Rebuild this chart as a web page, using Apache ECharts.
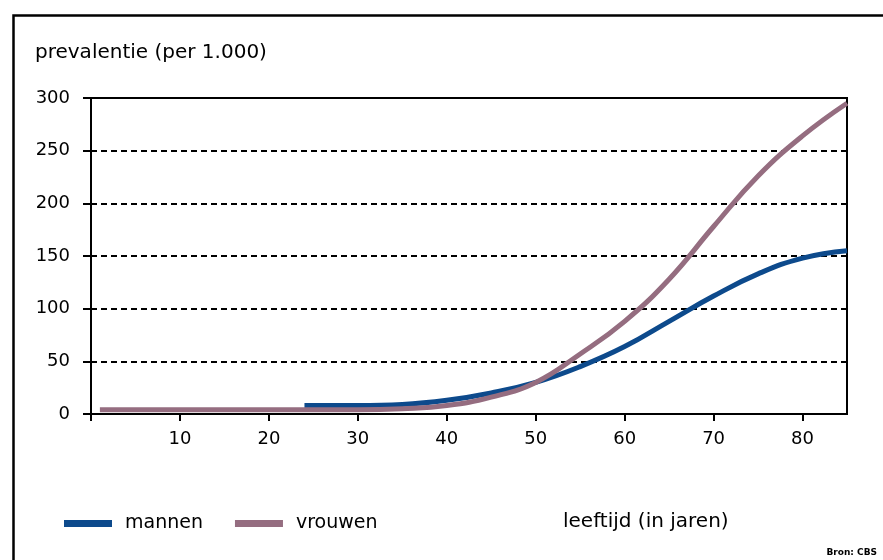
<!DOCTYPE html>
<html>
<head>
<meta charset="utf-8">
<script src="https://cdn.jsdelivr.net/npm/echarts@6/dist/echarts.min.js"></script>
<style>
  html, body { margin: 0; padding: 0; background: #fff; }
  #main { width: 883px; height: 560px; }
</style>
</head>
<body>
<div id="main"></div>
<script>
// leeftijd (jaren) en prevalentie per 1.000
var ageMen = [24, 30, 35, 40, 45, 50, 55, 60, 65, 70, 75, 80, 85];
var valMen = [8, 8, 9, 13, 20, 30, 45, 64, 88, 112, 133, 148, 155];
var ageWomen = [1, 5, 10, 15, 20, 25, 30, 35, 40, 45, 50, 55, 60, 65, 70, 75, 80, 85];
var valWomen = [4, 4, 4, 4, 4, 4, 4, 5, 8, 16, 30, 57, 88, 128, 178, 226, 264, 295];
var xTicks = [0, 10, 20, 30, 40, 50, 60, 70, 80];
var xLabels = [10, 20, 30, 40, 50, 60, 70, 80];

var FONT = '"DejaVu Sans", sans-serif';

function pairs(xs, ys) {
  var out = [];
  for (var i = 0; i < xs.length; i++) out.push([xs[i], ys[i]]);
  return out;
}

var chart = echarts.init(document.getElementById('main'));
var option = {
  animation: false,
  backgroundColor: '#fff',
  textStyle: { fontFamily: FONT, color: '#000' },
  grid: {
    left: 91, top: 98, right: 36, bottom: 146,
    show: true, borderColor: '#000', borderWidth: 2, backgroundColor: 'transparent'
  },
  legend: {
    left: 59, top: 509,
    icon: 'rect',
    itemWidth: 48, itemHeight: 7, itemGap: 32,
    textStyle: { fontFamily: FONT, fontSize: 19, color: '#000', padding: [0, 0, 0, 8] },
    data: ['mannen', 'vrouwen']
  },
  xAxis: {
    type: 'value', min: 0, max: 85, interval: 10,
    axisLine: { lineStyle: { color: '#000', width: 2 } },
    axisTick: { customValues: xTicks, length: 7, lineStyle: { color: '#000', width: 2 } },
    axisLabel: { customValues: xLabels, margin: 16, fontSize: 18, color: '#000', fontFamily: FONT },
    splitLine: { show: false }
  },
  yAxis: {
    type: 'value', min: 0, max: 300, interval: 50,
    axisLine: { show: true, lineStyle: { color: '#000', width: 2 } },
    axisTick: { show: true, length: 8, lineStyle: { color: '#000', width: 2 } },
    axisLabel: { margin: 21, fontSize: 18, color: '#000', fontFamily: FONT },
    splitLine: { show: true, lineStyle: { color: '#000', width: 2, type: [6, 4] } }
  },
  series: [
    {
      name: 'mannen', type: 'line', smooth: 0.45, showSymbol: false,
      data: pairs(ageMen, valMen),
      lineStyle: { color: '#0d4a8c', width: 5 },
      itemStyle: { color: '#0d4a8c' }
    },
    {
      name: 'vrouwen', type: 'line', smooth: 0.45, showSymbol: false,
      data: pairs(ageWomen, valWomen),
      lineStyle: { color: '#956d80', width: 5 },
      itemStyle: { color: '#956d80' }
    }
  ],
  graphic: [
    {
      type: 'rect', left: 11, top: 13, silent: true,
      shape: { width: 900, height: 600 },
      style: { fill: null, stroke: '#000', lineWidth: 2.5 }
    },
    {
      type: 'text', left: 35, top: 43,
      style: { text: 'prevalentie (per 1.000)', font: '20px ' + FONT, fill: '#000' }
    },
    {
      type: 'text', left: 563, top: 512,
      style: { text: 'leeftijd (in jaren)', font: '20px ' + FONT, fill: '#000' }
    },
    {
      type: 'text', right: 6, top: 548,
      style: { text: 'Bron: CBS', font: 'bold 9px ' + FONT, fill: '#000' }
    }
  ]
};
chart.setOption(option);
</script>
</body>
</html>
